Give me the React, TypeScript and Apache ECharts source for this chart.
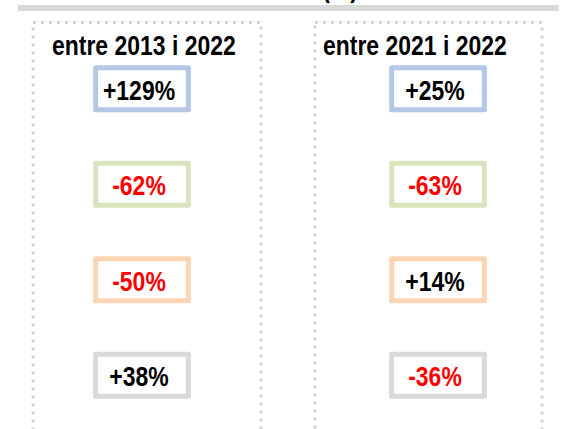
import React, { useEffect, useRef } from 'react';
import * as echarts from 'echarts';

// Column headers (periods) and the unit shown in the cut-off title
const periods = ['entre 2013 i 2022', 'entre 2021 i 2022'];
const unitLabel = '(%)';
// Four rows (one per coloured series of the original figure)
const rowKeys = ['s1', 's2', 's3', 's4'];
// Percentage changes per row
const change2013to2022 = [129, -62, -50, 38];
const change2021to2022 = [25, -63, 14, -36];

const rowBorderColors = ['#b4c7e7', '#d7e4bd', '#fcd5b5', '#d9d9d9'];
const FONT = '"Liberation Sans Narrow", "Arial Narrow", "Liberation Sans", sans-serif';
const NARROW = 0.82;

export default function App() {
  const ref = useRef<HTMLDivElement>(null);

  useEffect(() => {
    if (!ref.current) return;
    const chart = echarts.init(ref.current, null, { renderer: 'svg' });
    const data: number[][] = [];
    [change2013to2022, change2021to2022].forEach((arr, c) =>
      arr.forEach((v, r) => data.push([c, r, v]))
    );

    const headerText = (text: string, x: number, y: number, align: string) => ({
      type: 'text',
      x,
      y,
      scaleX: NARROW,
      style: {
        text,
        x: 0,
        y: 0,
        align,
        verticalAlign: 'middle',
        font: `bold 28px ${FONT}`,
        fill: '#000',
      },
    });

    chart.setOption({
      animation: false,
      grid: { left: 142, right: 125, top: 41, bottom: 6 },
      xAxis: { type: 'category', data: periods, boundaryGap: false, show: false },
      yAxis: { type: 'category', data: rowKeys, inverse: true, show: false },
      graphic: [
        headerText(unitLabel, 340, -13, 'center'),
        {
          type: 'rect',
          shape: { x: 18, y: 5, width: 541, height: 6 },
          style: { fill: '#d9d9d9' },
        },
        {
          type: 'rect',
          shape: { x: 33, y: 22.5, width: 228, height: 440 },
          style: { fill: 'none', stroke: '#d4d4d4', lineWidth: 3, lineDash: [3, 5] },
        },
        {
          type: 'rect',
          shape: { x: 315, y: 22.5, width: 227, height: 440 },
          style: { fill: 'none', stroke: '#d4d4d4', lineWidth: 3, lineDash: [3, 5] },
        },
        headerText(periods[0], 52, 45, 'left'),
        headerText(periods[1], 323, 45, 'left'),
      ],
      series: [
        {
          type: 'custom',
          data,
          renderItem: (params: any, api: any) => {
            const c = api.value(0);
            const r = api.value(1);
            const v = api.value(2);
            const pt = api.coord([c, r]);
            const cx = pt[0];
            const cy = pt[1];
            const w = 92.7;
            const h = 42;
            return {
              type: 'group',
              children: [
                {
                  type: 'rect',
                  shape: { x: cx - w / 2, y: cy - h / 2, width: w, height: h },
                  style: {
                    fill: '#ffffff',
                    stroke: rowBorderColors[r],
                    lineWidth: 5,
                    lineJoin: 'round',
                  },
                },
                {
                  type: 'text',
                  x: cx - 3,
                  y: cy + 1,
                  scaleX: NARROW,
                  style: {
                    text: (v > 0 ? '+' : '') + v + '%',
                    x: 0,
                    y: 0,
                    align: 'center',
                    verticalAlign: 'middle',
                    font: `bold 28px ${FONT}`,
                    fill: v < 0 ? '#ff0000' : '#000000',
                  },
                },
              ],
            };
          },
        },
      ],
    });

    return () => chart.dispose();
  }, []);

  return (
    <div
      ref={ref}
      style={{ position: 'fixed', left: 0, top: 0, width: 563, height: 429, background: '#fff' }}
    />
  );
}
